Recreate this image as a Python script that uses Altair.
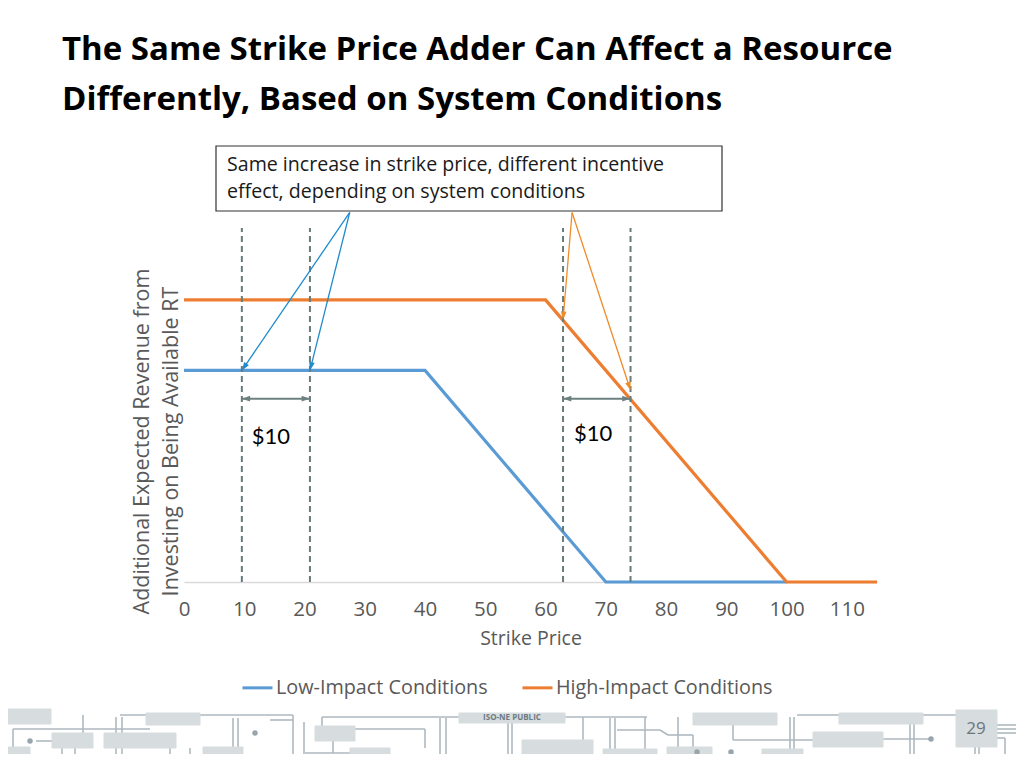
import math
import altair as alt
import pandas as pd

FONT = "Open Sans"
FONT_NUM = "Lato"

# ---------------- data ----------------
series_names = ["Low-Impact Conditions", "High-Impact Conditions"]
series_colors = ["#5B9BD5", "#ED7D31"]
low_x = [0, 40, 70, 100]
low_y = [75, 75, 0, 0]
high_x = [0, 60, 100, 115]
high_y = [100, 100, 0, 0]
x_ticks = [0, 10, 20, 30, 40, 50, 60, 70, 80, 90, 100, 110]

marker_x = [9.6, 20.9, 62.9, 74.1]
span_start = [9.6, 62.9]
span_end = [20.9, 74.1]
span_level = [65, 65]
span_text = ["$10", "$10"]
span_text_x = [14.4, 67.9]
span_text_y = [51.5, 52.3]

callout_lines = ["Same increase in strike price, different incentive",
                 "effect, depending on system conditions"]
blue_arrow_x0 = [27.5, 27.5]
blue_arrow_y0 = [131.0, 131.0]
blue_arrow_x1 = [9.6, 20.9]
blue_arrow_y1 = [75.0, 75.0]
orange_arrow_x0 = [64.4, 64.4]
orange_arrow_y0 = [131.0, 131.0]
orange_arrow_x1 = [62.9, 74.1]
orange_arrow_y1 = [93.0, 68.0]

title_lines = ["The Same Strike Price Adder Can Affect a Resource",
               "Differently, Based on System Conditions"]
y_title = ["Additional Expected Revenue from", "Investing on Being Available RT"]
x_title = "Strike Price"
footer_label = "ISO-NE PUBLIC"
page_number = "29"

# ---------------- geometry ----------------
X_MAX = 115
Y_MAX = 125.5
W = 693
H = 354
PAD_L, PAD_T = 176, 220
PAD_R = 1008 - PAD_L - W
PAD_B = 746 - PAD_T - H
KX = W / X_MAX
KY = H / Y_MAX
OX = 8 + PAD_L
OY = 8 + PAD_T


def px_x(p):
    return (p - OX) / KX


def px_y(p):
    return (OY + H - p) / KY


xs = alt.Scale(domain=[0, X_MAX], nice=False, zero=False)
ys = alt.Scale(domain=[0, Y_MAX], nice=False, zero=False)

AX = alt.Axis(
    values=x_ticks, tickSize=0, ticks=False, grid=False, labelFlush=False, labelOverlap=False,
    labelFont=FONT, labelFontSize=20.5, labelColor="#595959", labelPadding=17,
    domainColor="#D9D9D9", domainWidth=1.5,
    title=x_title, titleFont=FONT, titleFontSize=19.5, titleFontWeight="normal",
    titleColor="#595959", titlePadding=10)
AY = alt.Axis(
    domain=False, ticks=False, labels=False, grid=False,
    title=y_title, titleFont=FONT, titleFontSize=21.5, titleFontWeight="normal",
    titleColor="#595959", titleX=-36, titleY=213, titleAlign="center",
    titleBaseline="alphabetic", titleLineHeight=29, titleAngle=270)


def X(f):
    return alt.X(f, type="quantitative", scale=xs, axis=AX)


def Y(f):
    return alt.Y(f, type="quantitative", scale=ys, axis=AY)


ARROW = "M0,-1L0.6,0.75L-0.6,0.75Z"
HEAD_SIZE = 90
HEAD_R = math.sqrt(HEAD_SIZE) / 2


def arrow_frames(x0s, y0s, x1s, y1s):
    shafts, heads = [], []
    for x0, y0, x1, y1 in zip(x0s, y0s, x1s, y1s):
        dxp = (x1 - x0) * KX
        dyp = -(y1 - y0) * KY
        L = math.hypot(dxp, dyp)
        ux, uy = dxp / L, dyp / L
        ang = math.degrees(math.atan2(ux, -uy)) % 360
        cx = x1 - ux * HEAD_R / KX
        cy = y1 + uy * HEAD_R / KY
        shafts.append({"x": x0, "y": y0, "x2": cx, "y2": cy})
        heads.append({"x": cx, "y": cy, "a": ang})
    return pd.DataFrame(shafts), pd.DataFrame(heads)


def arrow_layers(x0s, y0s, x1s, y1s, color, width):
    s, h = arrow_frames(x0s, y0s, x1s, y1s)
    shaft = alt.Chart(s).mark_rule(color=color, strokeWidth=width).encode(
        x=X("x"), y=Y("y"), x2="x2:Q", y2="y2:Q")
    head = alt.Chart(h).mark_point(shape=ARROW, filled=True, size=HEAD_SIZE,
                                   color=color, opacity=1, strokeWidth=0).encode(
        x=X("x"), y=Y("y"), angle=alt.Angle("a:Q", scale=None))
    return [shaft, head]


# ---------------- main series ----------------
rows = []
for name, sx, sy in [(series_names[0], low_x, low_y), (series_names[1], high_x, high_y)]:
    for i, (a, b) in enumerate(zip(sx, sy)):
        rows.append({"series": name, "x": a, "y": b, "i": i})
df_lines = pd.DataFrame(rows)

lines = alt.Chart(df_lines).mark_line(strokeWidth=3.2, strokeJoin="miter").encode(
    x=X("x"),
    y=Y("y"),
    color=alt.Color("series:N", scale=alt.Scale(domain=series_names, range=series_colors),
                    legend=alt.Legend(orient="none", legendX=57, legendY=443,
                                      direction="horizontal", title=None,
                                      symbolType="stroke", symbolSize=900,
                                      symbolStrokeWidth=3, labelOffset=2,
                                      labelFont=FONT, labelFontSize=19.8,
                                      labelLimit=400,
                                      labelColor="#595959", columnPadding=28)),
    order="i:O",
)

# dashed markers
df_dash = pd.DataFrame({"x": marker_x, "y": [0] * len(marker_x), "y2": [Y_MAX] * len(marker_x)})
dashes = alt.Chart(df_dash).mark_rule(color="#687A7A", strokeWidth=2, strokeDash=[6, 4]).encode(
    x=X("x"), y=Y("y"), y2="y2:Q")

# double arrows ($10 spans)
df_span = pd.DataFrame({"x": span_start, "x2": span_end, "y": span_level})
span_rule = alt.Chart(df_span).mark_rule(color="#6D8080", strokeWidth=2).encode(
    x=X("x"), x2="x2:Q", y=Y("y"))
span_heads_rows = []
for a, b, lv in zip(span_start, span_end, span_level):
    span_heads_rows.append({"x": a + HEAD_R / KX, "y": lv, "a": 270})
    span_heads_rows.append({"x": b - HEAD_R / KX, "y": lv, "a": 90})
span_heads = alt.Chart(pd.DataFrame(span_heads_rows)).mark_point(
    shape=ARROW, filled=True, size=HEAD_SIZE, color="#6D8080", opacity=1, strokeWidth=0).encode(
    x=X("x"), y=Y("y"), angle=alt.Angle("a:Q", scale=None))
span_labels = alt.Chart(pd.DataFrame({"x": span_text_x, "y": span_text_y, "t": span_text})).mark_text(
    font=FONT_NUM, fontSize=22, color="#000000", baseline="middle", align="center").encode(
    x=X("x"), y=Y("y"), text="t:N")

# callout box
df_box = pd.DataFrame({"x": [px_x(216)], "x2": [px_x(722)], "y": [px_y(146)], "y2": [px_y(211)]})
box = alt.Chart(df_box).mark_rect(fill="white", stroke="#333333", strokeWidth=1.2).encode(
    x=X("x"), x2="x2:Q", y=Y("y"), y2="y2:Q")
df_box_text = pd.DataFrame({"x": [px_x(227)] * 2, "y": [px_y(171), px_y(198)], "t": callout_lines})
box_text = alt.Chart(df_box_text).mark_text(font=FONT, fontSize=19.6, color="#1A1A1A",
                                            align="left", baseline="alphabetic").encode(
    x=X("x"), y=Y("y"), text="t:N")

blue_arrows = arrow_layers(blue_arrow_x0, blue_arrow_y0, blue_arrow_x1, blue_arrow_y1, "#1F8BCB", 1.3)
orange_arrows = arrow_layers(orange_arrow_x0, orange_arrow_y0, orange_arrow_x1, orange_arrow_y1, "#F08C28", 1.3)

# slide title
df_title = pd.DataFrame({"x": [px_x(62)] * 2, "y": [px_y(60), px_y(110)], "t": title_lines})
title = alt.Chart(df_title).mark_text(font=FONT, fontSize=33, fontWeight="bold", color="#000000",
                                      align="left", baseline="alphabetic").encode(
    x=X("x"), y=Y("y"), text="t:N")

# ---------------- footer decoration ----------------
foot_rects = [
    (0, 709, 51, 724), (146, 713, 200, 725), (52, 733, 93, 748), (104, 733, 176, 748),
    (0, 747, 30, 762), (203, 747, 243, 762), (315, 726, 355, 741), (350, 748, 390, 763),
    (459, 713, 565, 723), (522, 740, 593, 755), (603, 749, 657, 765), (667, 747, 712, 762),
    (693, 713, 777, 725), (762, 749, 803, 764), (813, 732, 883, 747), (839, 713, 923, 724),
    (956, 710, 997, 747),
]
foot_lines = [
    (13, 729, 150, 729), (13, 729, 13, 768), (18, 760, 18, 768), (83, 715, 83, 733),
    (120, 715, 293, 715), (116, 717, 116, 768), (122, 717, 122, 768),
    (233, 718, 233, 747), (238, 718, 238, 747), (270, 720, 293, 720),
    (293, 715, 293, 768), (304, 722, 304, 768), (322, 717, 459, 717), (322, 717, 322, 726),
    (333, 741, 333, 753), (305, 753, 350, 753), (355, 729, 425, 729), (425, 729, 425, 748),
    (440, 718, 440, 768), (446, 718, 446, 768), (62, 748, 62, 768), (75, 748, 75, 768),
    (170, 748, 170, 768), (190, 748, 190, 768), (36, 741, 52, 741),
    (508, 723, 508, 768), (512, 723, 512, 768), (565, 717, 647, 717), (583, 717, 583, 740),
    (610, 718, 610, 750), (615, 718, 615, 750), (645, 717, 645, 750), (617, 730, 660, 730),
    (660, 730, 668, 735), (668, 735, 693, 735), (693, 735, 693, 747), (678, 717, 678, 747),
    (733, 725, 733, 740), (733, 740, 813, 740), (790, 717, 790, 749), (794, 717, 794, 749),
    (797, 715, 839, 715), (923, 715, 956, 715), (910, 724, 910, 768), (914, 724, 914, 768),
    (883, 739, 930, 739), (803, 757, 836, 757), (846, 757, 943, 757), (944, 757, 944, 768),
    (975, 747, 975, 768), (979, 747, 979, 768), (1005, 738, 1005, 768), (997, 738, 1005, 738),
    (997, 725, 1024, 725), (997, 729, 1024, 729), (997, 733, 1024, 733),
    (754, 755, 754, 768), (762, 755, 754, 755), (560, 765, 560, 768), (565, 765, 565, 768),
]
foot_dots = [(30, 741), (255, 733), (473, 757), (731, 752), (836, 757), (931, 739), (697, 752)]

df_fr = pd.DataFrame([{"x": px_x(a), "x2": px_x(c), "y": px_y(b), "y2": px_y(d)} for a, b, c, d in foot_rects])
df_fl = pd.DataFrame([{"x": px_x(a), "x2": px_x(c), "y": px_y(b), "y2": px_y(d)} for a, b, c, d in foot_lines])
df_fd = pd.DataFrame([{"x": px_x(a), "y": px_y(b)} for a, b in foot_dots])
footer_lines = alt.Chart(df_fl).mark_rule(color="#AEB9BF", strokeWidth=1.6).encode(
    x=X("x"), x2="x2:Q", y=Y("y"), y2="y2:Q")
footer_rects = alt.Chart(df_fr).mark_rect(fill="#D7DCDF", stroke="#D7DCDF").encode(
    x=X("x"), x2="x2:Q", y=Y("y"), y2="y2:Q")
footer_dots = alt.Chart(df_fd).mark_point(shape="circle", filled=True, size=30,
                                          color="#98A5AC", opacity=1).encode(x=X("x"), y=Y("y"))
df_ft = pd.DataFrame({"x": [px_x(512), px_x(976)], "y": [px_y(718), px_y(729)],
                      "t": [footer_label, page_number]})
footer_text1 = alt.Chart(df_ft.iloc[[0]]).mark_text(font=FONT, fontSize=8, fontWeight="bold",
                                                    color="#6F7B82", baseline="middle").encode(
    x=X("x"), y=Y("y"), text="t:N")
footer_text2 = alt.Chart(df_ft.iloc[[1]]).mark_text(font=FONT, fontSize=17, color="#6B767C",
                                                    baseline="middle").encode(
    x=X("x"), y=Y("y"), text="t:N")

layers = [lines, footer_lines, footer_rects, footer_dots, footer_text1, footer_text2,
          dashes, span_rule, span_heads, span_labels,
          box, box_text, title] + blue_arrows + orange_arrows

chart = alt.layer(*layers).properties(
    width=W, height=H,
    autosize=alt.AutoSizeParams(type="none"),
    padding={"left": PAD_L, "top": PAD_T, "right": PAD_R, "bottom": PAD_B},
    background="white",
).configure_view(stroke=None)

chart.save("out.html", embed_options={"renderer": "svg", "actions": False})
